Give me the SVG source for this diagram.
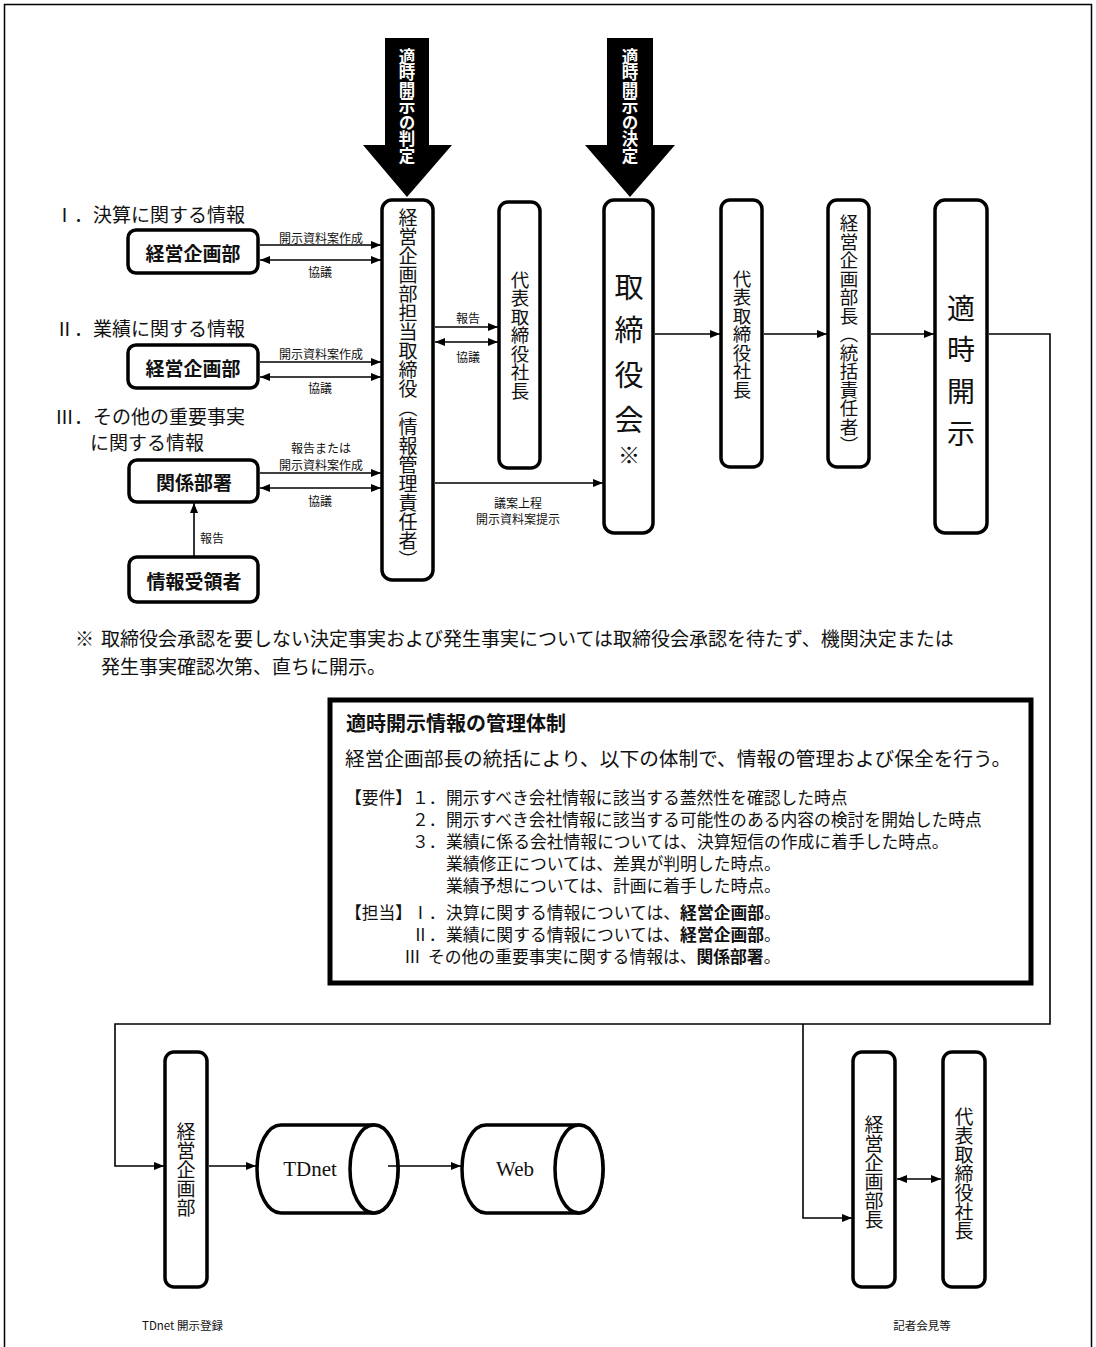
<svg xmlns="http://www.w3.org/2000/svg" width="1096" height="1347" viewBox="0 0 1096 1347">
<style>
.box{fill:#fff;stroke:#000;stroke-width:3.5}
.ln{fill:none;stroke:#000;stroke-width:1.6}
.t{font-family:"Noto Sans CJK JP","Noto Sans CJK SC",sans-serif;fill:#111}
.b{font-weight:bold}
.c{text-anchor:middle;dominant-baseline:central}
.m{dominant-baseline:central}
.v{writing-mode:vertical-rl;text-anchor:middle}
.s{font-size:12px}
.wt{fill:#fff;font-weight:bold}
.lat{font-family:"Liberation Serif",serif;fill:#111}
</style>
<defs>
<marker id="ah" markerWidth="10" markerHeight="8" refX="10" refY="4" orient="auto-start-reverse" markerUnits="userSpaceOnUse">
<path d="M0,0 L10,4 L0,8 Z" fill="#000"/>
</marker>
</defs>
<rect x="4.5" y="4.5" width="1087" height="1360" fill="none" stroke="#000" stroke-width="1.5"/>

<g id="arrow-hantei">
<polygon points="385,38 429,38 429,145 452,145 407,197 363,145 385,145" fill="#000"/>
<text class="t v wt" x="407" y="106" font-size="16.5">適時開示の判定</text>
</g>
<g id="arrow-kettei">
<polygon points="607,38 653,38 653,145 675,145 630,197 585,145 607,145" fill="#000"/>
<text class="t v wt" x="630" y="106" font-size="16.5">適時開示の決定</text>
</g>

<g id="heading-1"><text class="t m" x="55" y="213" font-size="19">Ⅰ．決算に関する情報</text></g>
<g id="heading-2"><text class="t m" x="55" y="327" font-size="19">Ⅱ．業績に関する情報</text></g>
<g id="heading-3"><text class="t m" font-size="19"><tspan x="55" y="415">Ⅲ．その他の重要事実</tspan><tspan x="90" y="441">に関する情報</tspan></text></g>

<g id="node-keiei1"><rect class="box" x="128" y="230" width="130" height="43" rx="8"/><text class="t b c" x="193" y="252" font-size="19">経営企画部</text></g>
<g id="node-keiei2"><rect class="box" x="128" y="345" width="130" height="43" rx="8"/><text class="t b c" x="193" y="367" font-size="19">経営企画部</text></g>
<g id="node-kankei"><rect class="box" x="129" y="460" width="129" height="42" rx="8"/><text class="t b c" x="194" y="481" font-size="19">関係部署</text></g>
<g id="node-jyuryo"><rect class="box" x="129" y="557" width="129" height="45" rx="8"/><text class="t b c" x="194" y="580" font-size="19">情報受領者</text></g>

<g id="node-tanto"><rect class="box" x="382" y="200" width="51" height="380" rx="10"/><text class="t v" x="408" y="389" font-size="19">経営企画部担当取締役（情報管理責任者）</text></g>
<g id="node-daihyo1"><rect class="box" x="499" y="202" width="41" height="266" rx="9"/><text class="t v" x="520" y="335" font-size="18.5">代表取締役社長</text></g>
<g id="node-torishimari"><rect class="box" x="604" y="200" width="49" height="333" rx="10"/><text class="t v" x="629" y="287 330 375 420" font-size="29">取締役会</text><text class="t v" x="629" y="455" font-size="22">※</text></g>
<g id="node-daihyo2"><rect class="box" x="721" y="200" width="41" height="267" rx="9"/><text class="t v" x="742" y="334" font-size="18.5">代表取締役社長</text></g>
<g id="node-buchou"><rect class="box" x="828" y="200" width="41" height="267" rx="9"/><text class="t v" x="849" y="334" font-size="18.5">経営企画部長（統括責任者）</text></g>
<g id="node-tekiji"><rect class="box" x="935" y="200" width="52" height="333" rx="10"/><text class="t v" x="961" y="308 349 391 433" font-size="28">適時開示</text></g>

<g id="node-keiei3"><rect class="box" x="165" y="1052" width="42" height="235" rx="9"/><text class="t v" x="186" y="1170" font-size="19">経営企画部</text></g>
<g id="node-tdnet"><path class="box" d="M281,1125 L374,1125 A24,44 0 0 1 374,1213 L281,1213 A24,44 0 0 1 281,1125 Z"/><ellipse class="box" cx="374" cy="1169" rx="24" ry="44"/><text class="lat c" x="310" y="1169" font-size="21">TDnet</text></g>
<g id="node-web"><path class="box" d="M486,1125 L579,1125 A24,44 0 0 1 579,1213 L486,1213 A24,44 0 0 1 486,1125 Z"/><ellipse class="box" cx="579" cy="1169" rx="24" ry="44"/><text class="lat c" x="515" y="1169" font-size="21">Web</text></g>
<g id="node-buchou2"><rect class="box" x="853" y="1052" width="42" height="235" rx="9"/><text class="t v" x="874" y="1172" font-size="19">経営企画部長</text></g>
<g id="node-daihyo3"><rect class="box" x="943" y="1052" width="42" height="235" rx="9"/><text class="t v" x="964" y="1174" font-size="19">代表取締役社長</text></g>

<g id="connectors">
<line class="ln" x1="260" y1="245" x2="381" y2="245" marker-end="url(#ah)"/>
<line class="ln" x1="260" y1="260" x2="381" y2="260" marker-start="url(#ah)" marker-end="url(#ah)"/>
<line class="ln" x1="260" y1="362" x2="381" y2="362" marker-end="url(#ah)"/>
<line class="ln" x1="260" y1="377" x2="381" y2="377" marker-start="url(#ah)" marker-end="url(#ah)"/>
<line class="ln" x1="260" y1="473" x2="381" y2="473" marker-end="url(#ah)"/>
<line class="ln" x1="260" y1="488" x2="381" y2="488" marker-start="url(#ah)" marker-end="url(#ah)"/>
<line class="ln" x1="194" y1="556" x2="194" y2="503" marker-end="url(#ah)"/>
<line class="ln" x1="435" y1="327" x2="498" y2="327" marker-end="url(#ah)"/>
<line class="ln" x1="435" y1="342" x2="498" y2="342" marker-start="url(#ah)" marker-end="url(#ah)"/>
<line class="ln" x1="435" y1="483" x2="603" y2="483" marker-end="url(#ah)"/>
<line class="ln" x1="655" y1="334" x2="720" y2="334" marker-end="url(#ah)"/>
<line class="ln" x1="764" y1="334" x2="827" y2="334" marker-end="url(#ah)"/>
<line class="ln" x1="871" y1="334" x2="934" y2="334" marker-end="url(#ah)"/>
<polyline class="ln" points="989,334 1050,334 1050,1024 115,1024 115,1166 164,1166" marker-end="url(#ah)"/>
<polyline class="ln" points="803,1024 803,1218 852,1218" marker-end="url(#ah)"/>
<line class="ln" x1="209" y1="1166" x2="256" y2="1166" marker-end="url(#ah)"/>
<line class="ln" x1="388" y1="1166" x2="461" y2="1166" marker-end="url(#ah)"/>
<line class="ln" x1="897" y1="1179" x2="941" y2="1179" marker-start="url(#ah)" marker-end="url(#ah)"/>
</g>

<g id="connector-labels">
<text class="t s c" x="321" y="237">開示資料案作成</text>
<text class="t s c" x="320" y="271">協議</text>
<text class="t s c" x="321" y="353">開示資料案作成</text>
<text class="t s c" x="320" y="387">協議</text>
<text class="t s c"><tspan x="321" y="447">報告または</tspan><tspan x="321" y="464">開示資料案作成</tspan></text>
<text class="t s c" x="320" y="500">協議</text>
<text class="t s c" x="212" y="537">報告</text>
<text class="t s c" x="468" y="317">報告</text>
<text class="t s c" x="468" y="356">協議</text>
<text class="t s c"><tspan x="518" y="502">議案上程</tspan><tspan x="518" y="518">開示資料案提示</tspan></text>
</g>

<g id="note">
<text class="t m" x="75" y="637" font-size="19">※</text>
<text class="t m" font-size="19"><tspan x="101" y="637">取締役会承認を要しない決定事実および発生事実については取締役会承認を待たず、機関決定または</tspan><tspan x="101" y="665">発生事実確認次第、直ちに開示。</tspan></text>
</g>

<g id="info-box">
<rect x="330" y="700" width="701" height="283" fill="#fff" stroke="#000" stroke-width="5"/>
<text class="t b m" x="346" y="722" font-size="20">適時開示情報の管理体制</text>
<text class="t m" x="345" y="757" font-size="19.7">経営企画部長の統括により、以下の体制で、情報の管理および保全を行う。</text>
<text class="t m" font-size="16.8"><tspan x="345" y="797">【要件】</tspan><tspan x="412" y="797">１．</tspan><tspan x="446" y="797">開示すべき会社情報に該当する蓋然性を確認した時点</tspan><tspan x="412" y="819">２．</tspan><tspan x="446" y="819">開示すべき会社情報に該当する可能性のある内容の検討を開始した時点</tspan><tspan x="412" y="841">３．</tspan><tspan x="446" y="841">業績に係る会社情報については、決算短信の作成に着手した時点。</tspan><tspan x="446" y="863">業績修正については、差異が判明した時点。</tspan><tspan x="446" y="885">業績予想については、計画に着手した時点。</tspan></text>
<text class="t m" font-size="16.8"><tspan x="345" y="912">【担当】</tspan><tspan x="412" y="912">Ⅰ．</tspan><tspan x="446" y="912">決算に関する情報については、</tspan><tspan class="b">経営企画部</tspan><tspan>。</tspan><tspan x="412" y="934">Ⅱ．</tspan><tspan x="446" y="934">業績に関する情報については、</tspan><tspan class="b">経営企画部</tspan><tspan>。</tspan><tspan x="404" y="956">Ⅲ</tspan><tspan x="428" y="956">その他の重要事実に関する情報は、</tspan><tspan class="b">関係部署</tspan><tspan>。</tspan></text>
</g>

<g id="bottom-labels">
<text class="t m" x="142" y="1325" font-size="11.5">TDnet 開示登録</text>
<text class="t c" x="922" y="1325" font-size="11.5">記者会見等</text>
</g>
</svg>
